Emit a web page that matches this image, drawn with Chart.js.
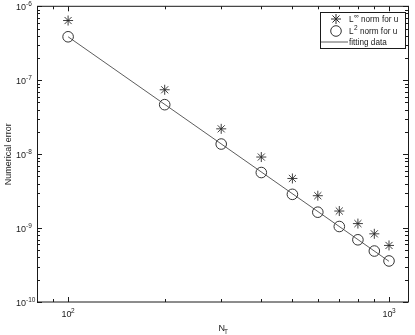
<!DOCTYPE html>
<html lang="en">
<head>
  <meta charset="UTF-8" />
  <title>Numerical error vs N_T</title>
  <style>
    body { margin: 0; background: #ffffff; }
    canvas { display: block; }
  </style>
</head>
<body>
  <canvas id="chart" width="415" height="335"></canvas>

  <script src="https://cdn.jsdelivr.net/npm/chart.js"></script>
  <script>
    // values
    const nValues = [100, 200, 300, 400, 500, 600, 700, 800, 900, 1000];
    const linfError = [6.42e-7, 7.43e-8, 2.20e-8, 9.14e-9, 4.69e-9, 2.74e-9, 1.70e-9, 1.15e-9, 8.36e-10, 5.82e-10];
    const l2Error = [3.87e-7, 4.67e-8, 1.37e-8, 5.64e-9, 2.86e-9, 1.64e-9, 1.05e-9, 6.94e-10, 4.89e-10, 3.59e-10];
    const fitN = [100, 1000];
    const fitError = [3.87e-7, 3.55e-10];

    const xMajor = [100, 1000];
    const xMajorExp = ['2', '3'];
    const xMinor = [90, 200, 300, 400, 500, 600, 700, 800, 900];
    const yMajor = [1e-6, 1e-7, 1e-8, 1e-9, 1e-10];
    const yMajorExp = ['-6', '-7', '-8', '-9', '-10'];
    const legendLabels = [['L', '\u221E', ' norm for u'], ['L', '2', ' norm for u'], ['fitting data', '', '']];

    const FONT = '"Liberation Sans", Arial, Helvetica, sans-serif';
    const INK = '#1a1a1a';

    const toPoints = (xs, ys) => xs.map((x, i) => ({ x: x, y: ys[i] }));

    // box, ticks, tick labels, axis titles, legend
    const axesPlugin = {
      id: 'matlabAxes',
      afterDatasetsDraw(chart) {
        const ctx = chart.ctx;
        const area = chart.chartArea;
        const xs = chart.scales.x;
        const ys = chart.scales.y;
        ctx.save();
        ctx.strokeStyle = INK;
        ctx.lineWidth = 1;

        // ticks on all four sides, pointing inward
        ctx.beginPath();
        const xTick = (v, len) => {
          const px = Math.round(xs.getPixelForValue(v)) + 0.5;
          ctx.moveTo(px, area.bottom); ctx.lineTo(px, area.bottom - len);
          ctx.moveTo(px, area.top); ctx.lineTo(px, area.top + len);
        };
        xMajor.forEach(v => xTick(v, 5));
        xMinor.forEach(v => xTick(v, 3));
        const yTick = (v, len) => {
          const py = Math.round(ys.getPixelForValue(v)) + 0.5;
          ctx.moveTo(area.left, py); ctx.lineTo(area.left + len, py);
          ctx.moveTo(area.right, py); ctx.lineTo(area.right - len, py);
        };
        yMajor.forEach((v, i) => {
          yTick(v, 5);
          if (i < yMajor.length - 1) {
            for (let m = 2; m <= 9; m++) yTick(v * m / 10, 3);
          }
        });
        ctx.stroke();

        // plot box
        ctx.strokeRect(area.left + 0.5, area.top, area.right - area.left, area.bottom - area.top);

        ctx.fillStyle = INK;
        ctx.textBaseline = 'middle';

        // y tick labels 10^k
        yMajor.forEach((v, i) => {
          const py = ys.getPixelForValue(v);
          ctx.font = '9px ' + FONT;
          ctx.textAlign = 'left';
          ctx.fillText('10', 16, py + 1.5);
          ctx.font = '6.5px ' + FONT;
          ctx.fillText(yMajorExp[i], 26, py - 2);
        });

        // x tick labels 10^k
        xMajor.forEach((v, i) => {
          const px = xs.getPixelForValue(v);
          ctx.font = '9px ' + FONT;
          ctx.textAlign = 'left';
          ctx.fillText('10', px - 6.5, 315);
          ctx.font = '6.5px ' + FONT;
          ctx.fillText(xMajorExp[i], px + 3, 311);
        });

        // x axis title N_T
        ctx.font = '9px ' + FONT;
        ctx.textAlign = 'left';
        ctx.fillText('N', 218.5, 328.5);
        ctx.font = '6.5px ' + FONT;
        ctx.fillText('T', 224, 332);

        // y axis title
        ctx.save();
        ctx.translate(9, (area.top + area.bottom) / 2);
        ctx.rotate(-Math.PI / 2);
        ctx.font = '9px ' + FONT;
        ctx.textAlign = 'center';
        ctx.fillText('Numerical error', 0, 0);
        ctx.restore();

        // legend
        const lx = 320.5, ly = 12.5, lw = 85, lh = 36;
        ctx.fillStyle = '#ffffff';
        ctx.fillRect(lx, ly, lw, lh);
        ctx.strokeStyle = INK;
        ctx.strokeRect(lx, ly, lw, lh);
        const rows = [19, 31, 42];
        const ds = chart.data.datasets;
        // markers
        ctx.strokeStyle = ds[0].borderColor;
        Chart.helpers.drawPoint(ctx, { pointStyle: 'star', radius: 5, borderWidth: 0.9, rotation: 0 }, 336, rows[0]);
        ctx.strokeStyle = ds[1].borderColor;
        Chart.helpers.drawPoint(ctx, { pointStyle: 'circle', radius: 5.3, borderWidth: 1, rotation: 0 }, 336, rows[1]);
        ctx.beginPath();
        ctx.strokeStyle = ds[2].borderColor;
        ctx.lineWidth = 0.8;
        ctx.moveTo(321, rows[2]);
        ctx.lineTo(348, rows[2]);
        ctx.stroke();
        // text
        ctx.fillStyle = INK;
        ctx.textAlign = 'left';
        legendLabels.forEach((parts, i) => {
          let x = 349;
          ctx.font = '8.2px ' + FONT;
          ctx.fillText(parts[0], x, rows[i] + 0.5);
          x += ctx.measureText(parts[0]).width + 0.5;
          if (parts[1]) {
            ctx.font = '6.5px ' + FONT;
            ctx.fillText(parts[1], x, rows[i] - 2.5);
            x += ctx.measureText(parts[1]).width;
            ctx.font = '8.2px ' + FONT;
            ctx.fillText(parts[2], x, rows[i] + 0.5);
          }
        });
        ctx.restore();
      }
    };

    new Chart(document.getElementById('chart'), {
      type: 'line',
      data: {
        datasets: [
          {
            label: 'L\u221E norm for u',
            data: toPoints(nValues, linfError),
            showLine: false,
            pointStyle: 'star',
            pointRadius: 5,
            pointBorderWidth: 0.9,
            borderColor: '#2a2a2a',
            backgroundColor: '#2a2a2a'
          },
          {
            label: 'L2 norm for u',
            data: toPoints(nValues, l2Error),
            showLine: false,
            pointStyle: 'circle',
            pointRadius: 5.3,
            pointBorderWidth: 1,
            borderColor: '#333333',
            backgroundColor: 'rgba(0,0,0,0)'
          },
          {
            label: 'fitting data',
            data: toPoints(fitN, fitError),
            pointRadius: 0,
            borderWidth: 0.8,
            borderColor: '#333333',
            tension: 0
          }
        ]
      },
      options: {
        responsive: false,
        animation: false,
        events: [],
        layout: { padding: { left: 37, top: 5, right: 7, bottom: 33 } },
        plugins: {
          legend: { display: false },
          tooltip: { enabled: false }
        },
        scales: {
          x: { type: 'logarithmic', min: 80, max: 1146, display: false },
          y: { type: 'logarithmic', min: 1e-10, max: 1e-6, display: false }
        }
      },
      plugins: [axesPlugin]
    });
  </script>
</body>
</html>
